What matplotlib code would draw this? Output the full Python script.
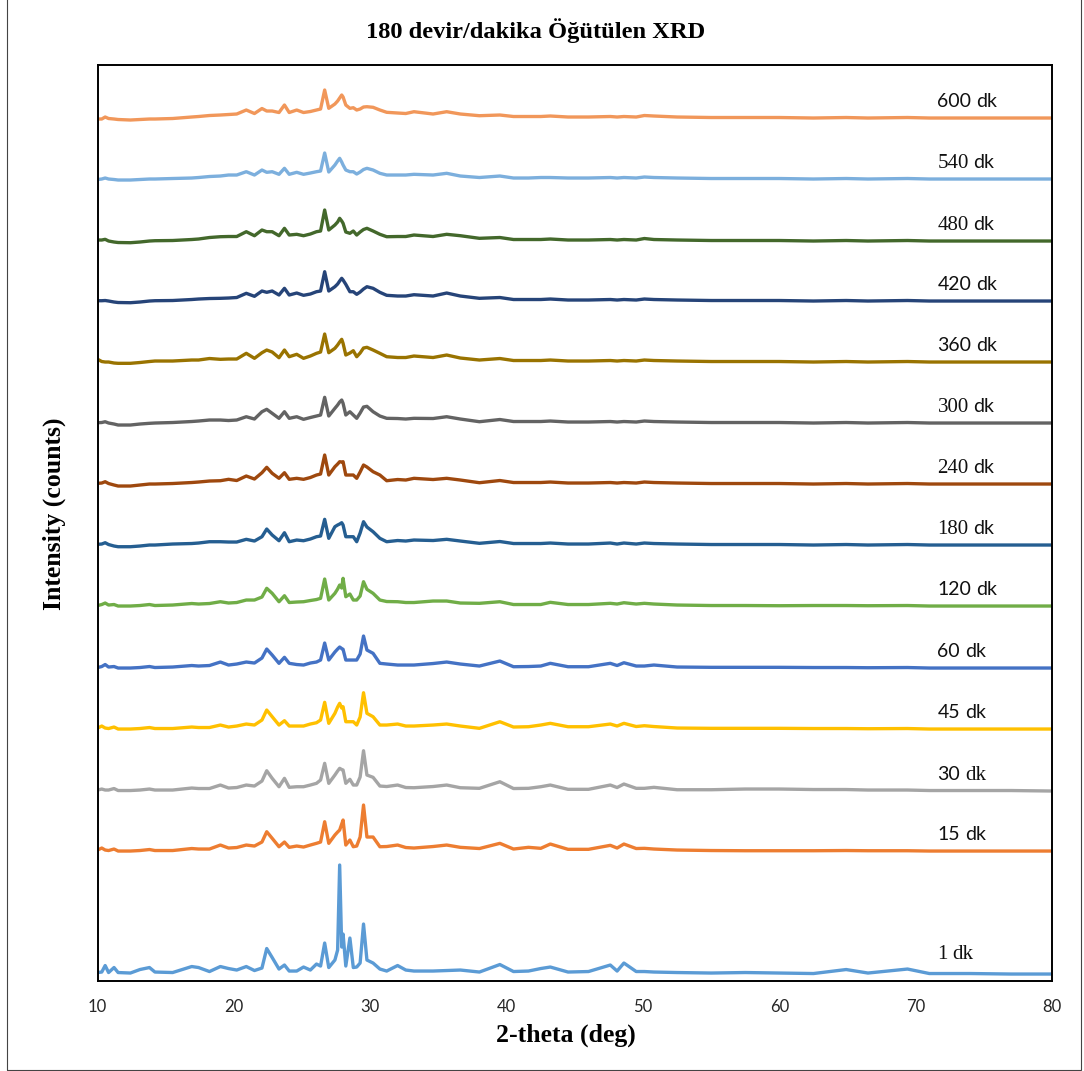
import matplotlib
matplotlib.use('Agg')
import matplotlib.pyplot as plt
from matplotlib.patches import Rectangle

plt.rcParams['font.family'] = 'Lato'

# 2-theta grid (deg) shared by every pattern
two_theta = [10.0, 10.3, 10.55, 10.8, 11.2, 11.5, 12.4, 13.1, 13.8, 14.2, 15.5, 16.9, 17.4, 18.2, 19.0, 19.6,
             20.2, 20.9, 21.5, 22.05, 22.4, 22.8, 23.3, 23.7, 24.05, 24.6, 25.1, 25.6,
             26.05, 26.35, 26.65, 26.95, 27.4, 27.6, 27.75, 27.9, 28.0, 28.2, 28.5, 28.75, 29.0, 29.25, 29.5, 29.75,
             30.2, 30.7, 31.2, 32.0, 32.6, 33.2, 34.6, 35.6, 36.6, 38.0, 39.5, 40.5, 41.6, 42.5, 43.2, 44.5,
             46.0, 47.6, 48.1, 48.6, 49.5, 50.1, 50.8, 52.5, 55.0, 57.5, 60.0, 62.5, 64.9, 66.5, 69.4, 71.0, 74.0, 77.0, 80.0]

# intensities above each pattern's own baseline
i_1 = [1.5, 2, 8.5, 1.5, 6.5, 1.5, 1, 4.5, 6.5, 2, 1.5, 7.5, 6.5, 2.5, 7.5, 5.5,
       4, 7.5, 3.5, 6, 25.5, 16.5, 5, 9, 3, 3, 7, 4,
       10, 8, 31, 6.5, 14, 24, 109, 27, 40, 8, 36, 6.5, 7, 11, 50, 14,
       11, 5, 3, 8.5, 4, 3, 3, 3.5, 4, 2, 9.5, 2.5, 3, 5.5, 7, 2,
       2.5, 9, 3, 11, 2.5, 2.5, 2, 1.5, 1, 1.5, 1, 0.5, 4.5, 1, 5, 0.5, 0.5, 0, 0]
i_15 = [1, 3, 1, 0.5, 2, 0, 0, 0.5, 1.5, 0.5, 0.5, 2.5, 2, 2, 6, 3,
        3.5, 6, 5, 9, 19.3, 12.7, 4.3, 9, 3.7, 5, 4, 6,
        7.7, 9, 29.3, 7.7, 16, 19, 21, 27, 31, 6, 11, 4.3, 5, 14, 46, 14,
        14, 4.3, 4.5, 6, 3.5, 3, 4.5, 6, 3.7, 2.5, 7.7, 2, 3.7, 2.7, 7, 1.7,
        1.7, 5.7, 3, 7, 2.5, 2.7, 2, 1, 0.5, 0.3, 0.3, 0.3, 0.5, 0.3, 0.3, 0, 0, 0, 0]
i_30 = [1, 2, 1, 1, 2.5, 0.5, 0.5, 1, 2, 1, 1, 3, 2.5, 2.5, 6, 3,
        3.5, 6, 5, 10, 20.3, 12.7, 4.3, 12.7, 3.7, 4.3, 4.3, 6,
        7.7, 11, 27.7, 7.7, 16, 20, 22.7, 21.5, 21, 7.7, 11.7, 6, 6, 14, 40.3, 16,
        13.7, 5, 4.5, 6, 3.5, 3.3, 4.5, 6, 3.3, 2.7, 9.3, 2.5, 2.7, 4.3, 6, 1.7,
        1.7, 6, 3.5, 7, 2.7, 2.7, 3.7, 1.3, 1.3, 2, 2, 1.5, 1.5, 1, 1, 0.5, 0.5, 0.5, 0]
i_45 = [1, 3, 1, 0.5, 2, 0, 0, 0.5, 1.5, 0.5, 0.5, 2, 1.5, 1.5, 4, 2,
        3, 5, 4, 9, 19, 12.3, 4, 8.3, 3, 3, 3, 5,
        6.3, 9, 26.7, 5.7, 15.7, 22, 25.7, 21, 22.3, 7.3, 7.3, 7.3, 4, 12, 36.3, 15.7,
        12.3, 4, 4, 5, 3, 3, 4, 5, 3, 0.7, 7.3, 2, 2.3, 4, 5.7, 2.3,
        2.3, 5, 3, 5.7, 2.5, 3.3, 2.5, 1, 0.7, 0.7, 0.7, 0.5, 0.5, 0.3, 0.5, 0, 0, 0, 0]
i_60 = [0.5, 1.5, 3.5, 1, 1.5, 0, 0, 0.5, 1.5, 0.5, 1, 2.5, 2, 2.5, 6, 3,
        4, 6, 5, 10, 19, 13, 4.7, 10.7, 4.7, 3.5, 3, 5,
        6, 8, 25, 8, 16, 19, 21, 19.5, 18.7, 8, 8, 8, 8, 14, 32, 18,
        14.7, 4.7, 4, 3, 3, 3, 4.5, 6, 4, 2, 7, 1.3, 1.5, 2, 4.7, 1.3,
        1.3, 4.7, 2.5, 5.3, 2, 2, 3, 1, 0.7, 0.7, 0.7, 0.5, 0.5, 0.3, 0.5, 0, 0, 0, 0]
i_120 = [0.5, 1.5, 3, 1, 1.5, 0, 0, 0.5, 1.5, 0.5, 1, 2.5, 2, 2.5, 4.3, 3,
         3.5, 6, 6, 9, 17.7, 12.7, 4.3, 10.3, 3.5, 4, 4.3, 5.5,
         6.5, 7.7, 27, 6, 12.7, 17, 21, 18, 27.7, 9.3, 12, 6, 6, 10, 24.3, 16.7,
         12.7, 6, 4.5, 4.3, 3.5, 3.5, 5, 5, 3, 2.7, 4.3, 1.5, 1.5, 1.5, 3.7, 1.5,
         1.5, 2.7, 2, 3.3, 2, 2.7, 2, 1, 0.5, 0.5, 0.3, 0.5, 0.5, 0.3, 0.5, 0, 0, 0, 0]
i_180 = [0.7, 1, 2.3, 0.5, -1, -1.7, -1.7, -1, 0, 0, 1, 1.5, 2, 3.3, 3.3, 3,
         3, 5.7, 4, 8.3, 16, 10, 4.3, 12.3, 3.3, 5, 4.3, 6,
         8.3, 9, 25.7, 6.7, 18.3, 20, 21, 22.3, 20, 8.3, 8.3, 8.3, 3.3, 12, 23.3, 18,
         13.3, 6.7, 3.3, 4.5, 4, 5, 4.5, 5.7, 4, 1.7, 3.5, 1.5, 1.5, 1.5, 2, 1,
         1, 2, 1, 2, 1, 2, 1.5, 1, 0.5, 0.5, 0.5, 0, 0.5, 0, 0.5, 0, 0, 0, 0]
i_240 = [0.7, 1, 2.3, 0.5, -1, -2, -2, -1, 0, 0, 0.5, 1.5, 2, 3, 3.3, 4.7,
         3.5, 8, 5, 11.3, 16.7, 10.7, 5.7, 11.3, 4.7, 5.7, 4.7, 6.5,
         9, 10, 29, 9, 17.3, 20, 22.3, 22, 22.3, 9, 9, 9, 5.7, 12, 19, 17,
         12.3, 9, 3.3, 4.5, 4, 5.7, 4.5, 5.7, 4, 1.3, 3.5, 1.5, 1.5, 1.5, 2, 1,
         1, 1.5, 1, 1.5, 1, 2, 1.5, 1, 0.5, 0.5, 0.5, 0, 0.5, 0, 0.5, 0, 0, 0, 0]
i_300 = [0.3, 0.5, 1.3, 0, -1, -2, -2, -1, -0.3, 0, 0.5, 1.5, 2, 3, 3, 2.5,
         3, 6.3, 4, 11.3, 13.7, 9.7, 4.7, 11.3, 4.7, 6.3, 3.7, 5.5,
         7, 8, 25.7, 7, 14.7, 18, 21, 23, 19.7, 8, 11.3, 8, 4.7, 10, 16, 16.7,
         11.3, 7, 4.7, 4.5, 4, 4.7, 4.5, 6.3, 4, 1.3, 3.5, 1.5, 1.5, 1.5, 2, 1,
         1, 1.5, 1, 1.5, 1, 2, 1.5, 1, 0.5, 0.5, 0.5, 0, 0.5, 0, 0.5, 0, 0, 0, 0]
i_360 = [2.7, 0.5, 0, 0, -1, -1.3, -1.3, -0.5, 0.5, 1, 1, 2, 2, 3.5, 2.7, 3,
         3, 8.7, 3.7, 9.3, 12, 10, 4.3, 12, 5.3, 7.7, 3.7, 6,
         8.7, 10, 28, 9.3, 13.7, 17, 20, 22.7, 18.7, 7, 9, 11.3, 5.3, 9, 14, 14.7,
         12, 8.7, 5.3, 4.5, 4.5, 6, 4.5, 7, 4, 2, 3.5, 1.5, 1.5, 1.5, 2, 1,
         1, 1.5, 1, 1.5, 1, 2, 1.5, 1, 0.5, 0.5, 0.5, 0, 0.5, 0, 0.5, 0, 0, 0, 0]
i_420 = [0.3, 0.3, 0.5, 0, -1, -1.5, -1.7, -1, 0, 0.3, 0.5, 1.5, 2, 2.5, 2.7, 3,
         3.5, 7.7, 4.7, 10, 8.7, 10, 6, 12.7, 6, 8, 5.7, 7,
         9.3, 10, 29.3, 10, 14.3, 17, 20, 22.7, 21, 16.7, 9.3, 9.3, 6.7, 9, 12, 14.3,
         12.7, 8.7, 5.7, 5, 5, 6.3, 5, 8, 5, 2.7, 3.5, 1.5, 1.5, 1.5, 2, 1,
         1, 1.5, 1, 1.5, 1, 2, 1.5, 1, 0.5, 0.5, 0.5, 0, 0.5, 0, 0.5, 0, 0, 0, 0]
i_480 = [1, 1, 1.7, 0, -1, -1.5, -1.7, -1, 0, 0.3, 0.5, 1.5, 2, 3.5, 4.3, 4.5,
         4.5, 9.3, 5.3, 11, 9.3, 9.3, 5.3, 12.7, 6, 6.7, 5.3, 7,
         9.3, 10, 31, 11, 16, 19, 22.7, 20, 17.7, 9, 7.7, 10, 6, 9, 11.5, 12.7,
         10, 6.7, 4.3, 4.5, 4.5, 6, 4.5, 6.7, 5.3, 2.7, 3.5, 1.5, 1.5, 1.5, 2, 1,
         1, 1.5, 1, 1.5, 1, 2.5, 1.5, 1, 0.5, 0.5, 0.5, 0, 0.5, 0, 0.5, 0, 0, 0, 0]
i_540 = [-0.5, 0, 1, 0, -0.5, -1, -1, -0.5, 0, 0, 0.5, 1, 1.5, 2.5, 3, 4,
         4, 7.3, 4, 9, 6.7, 7.3, 4.7, 10.7, 4.7, 6.7, 4.7, 6,
         7.3, 8, 26, 7, 14, 18, 20.7, 17, 14, 9, 7.3, 7.3, 5, 7, 9.5, 10.7,
         9, 5.7, 4, 4, 4, 4.7, 4, 5.7, 3, 1.5, 3, 1, 1, 1.5, 1.5, 1,
         1, 1.5, 1, 1.5, 1, 2, 1.5, 1, 0.5, 0.5, 0.5, 0, 0.5, 0, 0.5, 0, 0, 0, 0]
i_600 = [-1, -1, 1, -0.5, -1, -1.5, -2, -1.5, -1, -1, -0.5, 1, 1.5, 2.5, 3, 3.5,
         4, 8, 4.5, 9.5, 7, 7, 5.5, 13, 5.5, 8, 5.5, 6.5,
         8, 9, 28, 9.7, 14, 17, 20, 23, 21, 13, 9.7, 10.3, 8, 9, 11, 11.3,
         10.7, 8, 5.7, 5, 4.5, 6.3, 4, 6.3, 4, 2.3, 3, 1.5, 1.5, 1.5, 2, 1,
         1, 1.5, 1, 1.5, 1, 2.5, 2, 1, 0.5, 0.5, 0.5, 0, 0.5, 0, 0.5, 0, 0, 0, 0]

labels = ['1 dk', '15 dk', '30 dk', '45 dk', '60 dk', '120 dk', '180 dk',
          '240 dk', '300 dk', '360 dk', '420 dk', '480 dk', '540 dk', '600 dk']
patterns = [i_1, i_15, i_30, i_45, i_60, i_120, i_180,
            i_240, i_300, i_360, i_420, i_480, i_540, i_600]
# vertical stacking offsets of each pattern
offsets = [7, 130, 190, 252, 313, 375, 436, 497, 558, 619, 680, 740, 802, 863]

colors = ['#5B9BD5', '#ED7D31', '#A5A5A5', '#FFC000', '#4472C4', '#70AD47', '#255E91',
          '#9E480E', '#636363', '#997300', '#264478', '#43682B', '#7CAFDD', '#F1975A']
# the label texts mix two fonts (number, "dk")
SANS, SERIF = 'Lato', 'Liberation Serif'
label_fonts = [(SERIF, SERIF), (SANS, SANS), (SANS, SERIF), (SANS, SANS), (SANS, SANS),
               (SANS, SANS), (SERIF, SANS), (SERIF, SANS), (SERIF, SANS), (SANS, SANS),
               (SANS, SANS), (SERIF, SANS), (SERIF, SANS), (SANS, SANS)]

fig = plt.figure(figsize=(10.84, 10.71), dpi=100)
ax = fig.add_axes([0.0901, 0.0840, 0.8804, 0.8553])

for y, off, c in zip(patterns, offsets, colors):
    ax.plot(two_theta, [v + off for v in y], color=c, lw=2.4,
            solid_joinstyle='round', solid_capstyle='round')

ax.set_xlim(10, 80)
ax.set_ylim(0, 916)
ax.set_xticks(range(10, 81, 10))
ax.set_yticks([])
ax.tick_params(axis='x', length=0, pad=13, labelsize=12, colors='#262626')
for s in ax.spines.values():
    s.set_linewidth(1.4)
    s.set_color('black')
    s.set_zorder(5)

ax.set_xlabel('2-theta (deg)', family='Liberation Serif', weight='bold', fontsize=18.5, va='center')
ax.xaxis.set_label_coords(0.491, -0.059)
ax.set_ylabel('Intensity (counts)', family='Liberation Serif', weight='bold', fontsize=18.5, va='center')
ax.yaxis.set_label_coords(-0.045, 0.51)
fig.suptitle('180 devir/dakika Öğütülen XRD', x=0.494, y=1 - 31 / 1071, va='center',
             family='Liberation Serif', weight='bold', fontsize=17.6)

# series labels on the right: number then "dk"
renderer = fig.canvas.get_renderer()
for lab, off, (f_num, f_dk) in zip(labels, offsets, label_fonts):
    num = lab.split()[0]
    lift = 15 if lab == '1 dk' else 11
    size_num = 15 if f_num == SERIF else 14
    size_dk = 15 if f_dk == SERIF else 14
    t = ax.text(71.6, off + lift, num, family=f_num, fontsize=size_num, color='#111111',
                ha='left', va='baseline')
    w = t.get_window_extent(renderer).width * 72 / fig.dpi
    ax.annotate('dk', xy=(71.6, off + lift), xytext=(w + 3.4, 0), textcoords='offset points',
                family=f_dk, fontsize=size_dk, color='#111111', ha='left', va='baseline')

# thin frame around the whole chart
fig.patches.append(Rectangle((6.5 / 1084, 1 / 1071), 1074 / 1084, 1.2, transform=fig.transFigure,
                             fill=False, lw=0.8, edgecolor='#444444', clip_on=False))

fig.savefig('out.png', dpi=100)
